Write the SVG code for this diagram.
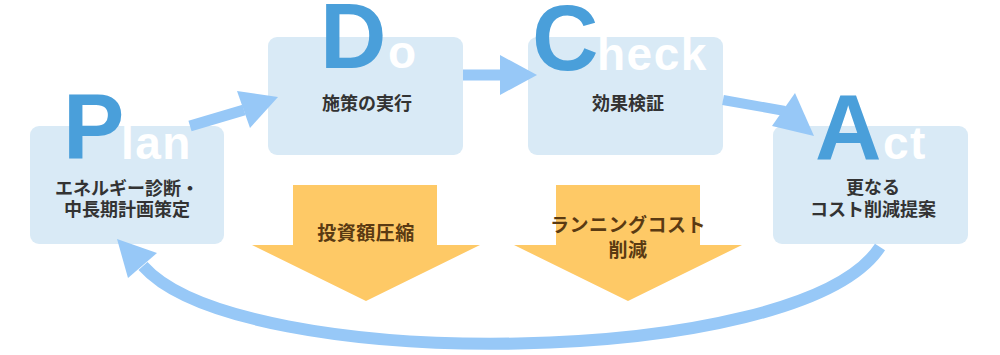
<svg xmlns="http://www.w3.org/2000/svg" width="1000" height="355" viewBox="0 0 1000 355">
<style>
.box{fill:#d9eaf6}
.big{font-family:"Liberation Sans",Arial,sans-serif;font-weight:bold;font-size:92px;fill:#4a9fda}
.small{font-family:"Liberation Sans",Arial,sans-serif;font-weight:bold;font-size:46px;fill:#ffffff;letter-spacing:1.5px}
.lbl{font-family:"Noto Sans CJK JP",sans-serif;font-weight:bold;font-size:18px;fill:#333333;text-anchor:middle}
.olbl{font-family:"Noto Sans CJK JP",sans-serif;font-weight:bold;font-size:19px;fill:#5a3a12;text-anchor:middle;letter-spacing:0.5px}
.orange{fill:#fec966}
.line{stroke:#97c8f7;fill:none}
.head{fill:#97c8f7}
</style>
<rect width="1000" height="355" fill="#ffffff"/>
<g id="reduce-investment">
<polygon class="orange" points="293,185 437,185 437,245 480,245 366,301 252,245 293,245"/>
<text class="olbl" x="366" y="240">投資額圧縮</text>
</g>
<g id="reduce-running-cost">
<polygon class="orange" points="556,185 700,185 700,245 742,245 628,301 514,245 556,245"/>
<text class="olbl" x="628" y="232">ランニングコスト</text>
<text class="olbl" x="628" y="257">削減</text>
</g>
<g id="plan">
<rect class="box" x="30" y="126" width="194" height="118" rx="9"/>
<text class="lbl" x="127" y="195">エネルギー診断・</text>
<text class="lbl" x="127" y="216">中長期計画策定</text>
</g>
<g id="do">
<rect class="box" x="268" y="37" width="195" height="118" rx="9"/>
<text class="lbl" x="367" y="110">施策の実行</text>
</g>
<g id="check">
<rect class="box" x="528" y="37" width="195" height="118" rx="9"/>
<text class="lbl" x="628" y="110">効果検証</text>
</g>
<g id="act">
<rect class="box" x="773" y="126" width="195" height="118" rx="9"/>
<text class="lbl" x="873" y="194">更なる</text>
<text class="lbl" x="873" y="216">コスト削減提案</text>
</g>
<g id="connectors">
<line class="line" x1="190" y1="126" x2="244" y2="110" stroke-width="11"/>
<polygon class="head" points="237,91 278,97 250,128"/>
<line class="line" x1="463" y1="75" x2="502" y2="75" stroke-width="11"/>
<polygon class="head" points="500,55 537,75 500,95"/>
<line class="line" x1="723" y1="100" x2="785" y2="111" stroke-width="10"/>
<polygon class="head" points="795,93 814,136 772,126"/>
<path class="line" d="M880,247 C800,370 240,375 143,266" stroke-width="12"/>
<polygon class="head" points="117,239 157,253 128,278"/>
</g>
<g id="letters">
<text y="159"><tspan class="big" x="63">P</tspan><tspan class="small" x="121">lan</tspan></text>
<text y="68"><tspan class="big" x="320">D</tspan><tspan class="small" x="388">o</tspan></text>
<text y="70"><tspan class="big" x="532">C</tspan><tspan class="small" x="597">heck</tspan></text>
<text y="159"><tspan class="big" x="815">A</tspan><tspan class="small" x="883">ct</tspan></text>
</g>
</svg>
